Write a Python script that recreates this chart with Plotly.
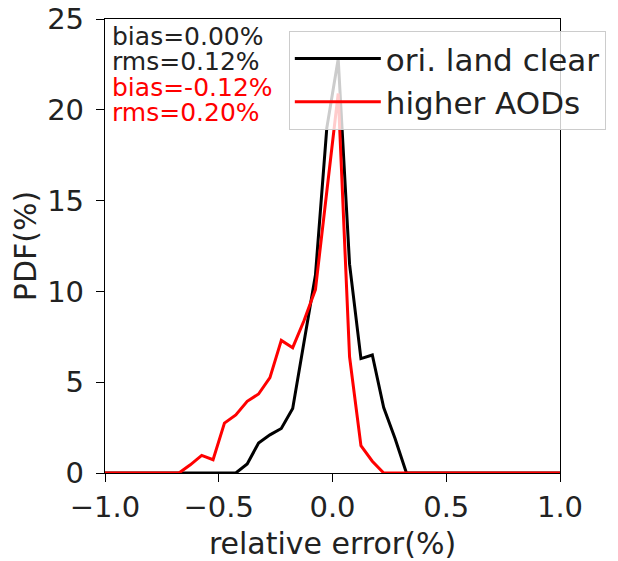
import plotly.graph_objects as go

# bin centres (relative error, %) and PDF values (%)
x_black = [-1.0, -0.425, -0.375, -0.325, -0.275, -0.225, -0.175, -0.125, -0.075, -0.025,
           0.025, 0.075, 0.125, 0.175, 0.225, 0.275, 0.325, 1.0]
y_black = [0.0, 0.0, 0.5, 1.65, 2.1, 2.45, 3.55, 7.2, 10.9, 19.0,
           22.8, 11.5, 6.3, 6.5, 3.6, 1.9, 0.0, 0.0]

x_red = [-1.0, -0.675, -0.625, -0.575, -0.525, -0.475, -0.425, -0.375, -0.325, -0.275,
         -0.225, -0.175, -0.125, -0.075, -0.025, 0.025, 0.075, 0.125, 0.175, 0.225, 1.0]
y_red = [0.0, 0.0, 0.45, 0.97, 0.73, 2.75, 3.2, 3.95, 4.35, 5.25,
         7.3, 6.9, 8.4, 10.1, 15.5, 20.9, 6.4, 1.5, 0.65, 0.0, 0.0]

series_names = ["ori. land clear", "higher AODs"]
stats_black = ["bias=0.00%", "rms=0.12%"]
stats_red = ["bias=-0.12%", "rms=0.20%"]

x_ticks = [-1.0, -0.5, 0.0, 0.5, 1.0]
y_ticks = [0, 5, 10, 15, 20, 25]

FONT = "DejaVu Sans"

fig = go.Figure()
fig.add_trace(go.Scatter(x=x_black, y=y_black, mode="lines", name=series_names[0],
                         line=dict(color="black", width=3)))
fig.add_trace(go.Scatter(x=x_red, y=y_red, mode="lines", name=series_names[1],
                         line=dict(color="red", width=3)))

texts = stats_black + stats_red
colors = ["#222222", "#222222", "red", "red"]
ys = [0.962, 0.906, 0.849, 0.793]
for t, c, yy in zip(texts, colors, ys):
    fig.add_annotation(x=0.010, y=yy, xref="paper", yref="paper", text=t,
                       showarrow=False, xanchor="left", yanchor="middle",
                       font=dict(family=FONT, size=25, color=c))

axis_common = dict(showline=True, linecolor="black", linewidth=1.3, mirror=True,
                   ticks="outside", ticklen=8, tickwidth=1.3, tickcolor="black",
                   showgrid=False, zeroline=False, ticklabeloverflow="allow",
                   tickfont=dict(family=FONT, size=29, color="#222222"))

fig.update_xaxes(range=[-1, 1], tickvals=x_ticks, tickformat=".1f",
                 title=dict(text="relative error(%)", font=dict(family=FONT, size=30, color="#222222"),
                            standoff=10),
                 **axis_common)
fig.update_yaxes(range=[0, 25], tickvals=y_ticks, ticklabelstandoff=6,
                 title=dict(text="PDF(%)", font=dict(family=FONT, size=30, color="#222222"),
                            standoff=10),
                 **axis_common)

# the page body adds an 8px offset, so the figure is 8px smaller and margins shifted
fig.update_layout(
    width=610, height=553,
    margin=dict(l=97, r=58, t=11, b=88, autoexpand=False),
    plot_bgcolor="white", paper_bgcolor="white",
    font=dict(family=FONT),
    showlegend=True,
    legend=dict(x=0.404, y=0.974, xanchor="left", yanchor="top",
                bgcolor="rgba(255,255,255,0.8)", bordercolor="#cccccc", borderwidth=1,
                font=dict(family=FONT, size=31, color="#222222"), itemwidth=86,
                tracegroupgap=0),
)

fig.write_html("out.html")
